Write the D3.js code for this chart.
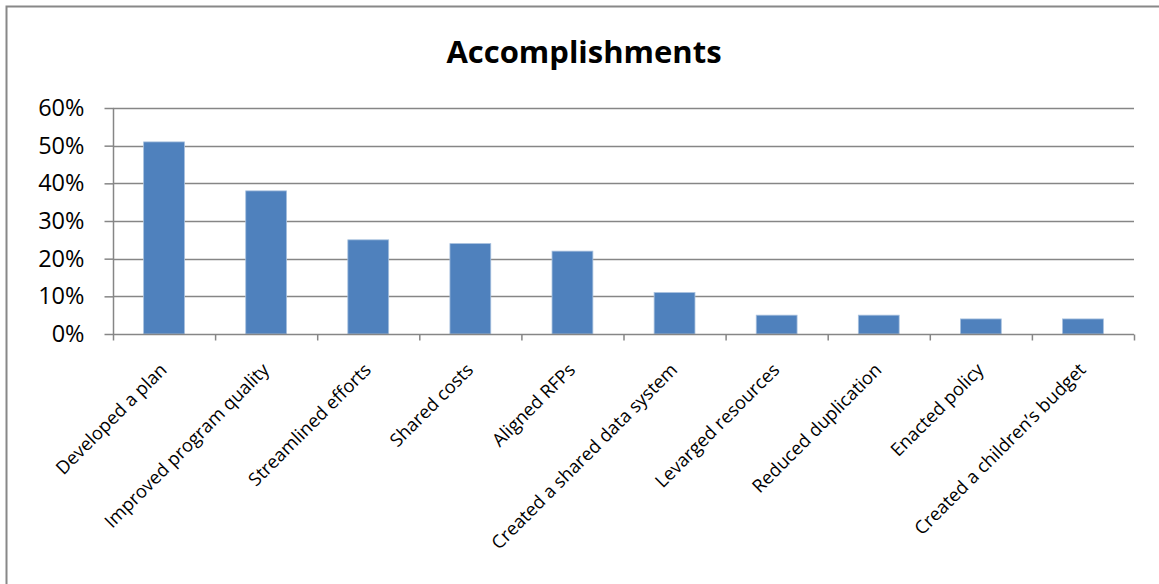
<!DOCTYPE html>
<html>
<head>
<meta charset="utf-8">
<script src="https://cdn.jsdelivr.net/npm/d3@7"></script>
<style>
  html, body { margin: 0; padding: 0; background: #fff; }
  svg { display: block; }
  text { font-family: "Open Sans", "Noto Sans", sans-serif; fill: #000; }
</style>
</head>
<body>
<svg id="chart" width="1159" height="584"></svg>
<script>
const categories = [
  "Developed a plan",
  "Improved program quality",
  "Streamlined efforts",
  "Shared costs",
  "Aligned RFPs",
  "Created a shared data system",
  "Levarged resources",
  "Reduced duplication",
  "Enacted policy",
  "Created a children\u2019s budget"
];
const values = [0.51, 0.38, 0.25, 0.24, 0.22, 0.11, 0.05, 0.05, 0.04, 0.04];
const yTicks = [0, 0.1, 0.2, 0.3, 0.4, 0.5, 0.6];
const title = "Accomplishments";

const svg = d3.select("#chart");
const W = 1159, H = 584;
const mLeft = 113, mRight = 1134, mTop = 108, mBottom = 334;
const gridColor = "#868686";

// outer border (open at right and bottom as in the picture)
svg.append("path")
  .attr("d", `M6.5,${H + 2} L6.5,6.5 L${W + 2},6.5`)
  .attr("fill", "none").attr("stroke", "#888").attr("stroke-width", 2);

const x = d3.scaleBand().domain(categories).range([mLeft, mRight]).paddingInner(0.6).paddingOuter(0.3);
const xEdges = d3.scaleLinear().domain([0, categories.length]).range([mLeft, mRight]);
const y = d3.scaleLinear().domain([0, 0.6]).range([mBottom, mTop]);

// gridlines
svg.append("g").selectAll("line").data(yTicks.filter(d => d > 0)).join("line")
  .attr("x1", mLeft).attr("x2", mRight)
  .attr("y1", d => Math.round(y(d)) + 0.5).attr("y2", d => Math.round(y(d)) + 0.5)
  .attr("stroke", gridColor).attr("stroke-width", 1.5);

// bars
svg.append("g").selectAll("rect").data(values).join("rect")
  .attr("x", (d, i) => x(categories[i]))
  .attr("width", x.bandwidth())
  .attr("y", d => y(d))
  .attr("height", d => y(0) - y(d))
  .attr("fill", "#4f81bd")
  .attr("stroke", "#a7c0de").attr("stroke-width", 0.8);

// y axis
const yAxis = d3.axisLeft(y).tickValues(yTicks).tickFormat(d3.format(".0%")).tickSize(9).tickPadding(20);
const gy = svg.append("g").attr("transform", `translate(${mLeft + 0.5},0)`).call(yAxis);
gy.select(".domain").attr("stroke", gridColor).attr("stroke-width", 1.5).attr("d", `M0,${mTop}V${mBottom}`);
gy.selectAll(".tick line").attr("stroke", gridColor).attr("stroke-width", 1.5);
gy.selectAll(".tick text").attr("font-family", "Open Sans").attr("font-size", 23.5).attr("fill", "#000");

// x axis (ticks at category boundaries)
const xAxis = d3.axisBottom(xEdges).tickValues(d3.range(0, categories.length + 1)).tickSize(6).tickFormat("");
const gx = svg.append("g").attr("transform", `translate(0,${mBottom + 0.5})`).call(xAxis);
gx.select(".domain").attr("stroke", gridColor).attr("stroke-width", 1.5).attr("d", `M${mLeft},0H${mRight}`);
gx.selectAll(".tick line").attr("stroke", gridColor).attr("stroke-width", 1.5);

// category labels rotated -45
svg.append("g").selectAll("text").data(categories).join("text")
  .attr("transform", d => `translate(${x(d) + x.bandwidth() / 2 + 4},${mBottom + 37}) rotate(-45)`)
  .attr("text-anchor", "end")
  .attr("font-size", 18.3)
  .text(d => d);

// title
svg.append("text")
  .attr("x", 584)
  .attr("y", 63)
  .attr("text-anchor", "middle")
  .attr("font-size", 31)
  .attr("font-weight", "bold")
  .text(title);
</script>
</body>
</html>
